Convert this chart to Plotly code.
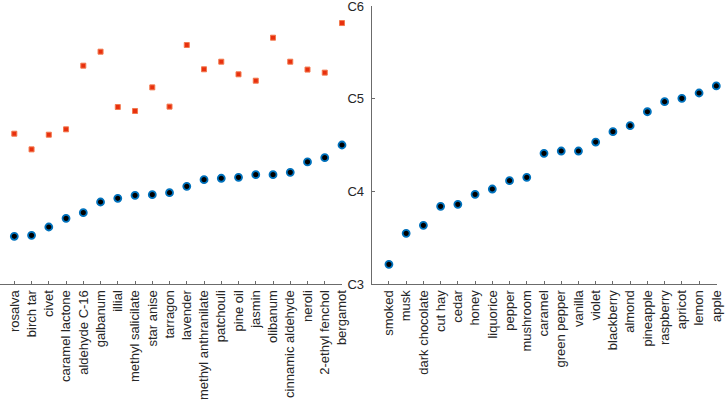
import plotly.graph_objects as go

left_cats = ["rosalva", "birch tar", "civet", "caramel lactone", "aldehyde C-16", "galbanum",
             "illial", "methyl salicilate", "star anise", "tarragon", "lavender",
             "methyl anthranilate", "patchouli", "pine oil", "jasmin", "olibanum",
             "cinnamic aldehyde", "neroli", "2-ethyl fenchol", "bergamot"]
left_blue = [3.515, 3.525, 3.615, 3.709, 3.770, 3.885, 3.925, 3.957, 3.964, 3.985, 4.054,
             4.126, 4.141, 4.151, 4.180, 4.180, 4.205, 4.317, 4.363, 4.500]
left_red = [4.622, 4.453, 4.611, 4.669, 5.356, 5.507, 4.910, 4.867, 5.122, 4.914, 5.579,
            5.317, 5.399, 5.263, 5.194, 5.658, 5.399, 5.314, 5.281, 5.816]

right_cats = ["smoked", "musk", "dark chocolate", "cut hay", "cedar", "honey", "liquorice",
              "pepper", "mushroom", "caramel", "green pepper", "vanilla", "violet",
              "blackberry", "almond", "pineapple", "raspberry", "apricot", "lemon", "apple"]
right_blue = [3.212, 3.547, 3.633, 3.838, 3.860, 3.968, 4.025, 4.115, 4.151, 4.410, 4.435,
              4.435, 4.532, 4.644, 4.709, 4.859, 4.967, 5.004, 5.061, 5.137]

y_ticks = [3, 4, 5, 6]
y_labels = ["C3", "C4", "C5", "C6"]

blue_marker = dict(symbol="circle", size=7, color="black", line=dict(color="#0072BD", width=1.8))
red_marker = dict(symbol="square", size=5, color="#E8300E", line=dict(color="#F27A50", width=1))

fig = go.Figure()
lx = list(range(len(left_cats)))
rx = list(range(len(right_cats)))
fig.add_trace(go.Scatter(x=lx, y=left_red, mode="markers", marker=red_marker,
                         xaxis="x", yaxis="y", showlegend=False, cliponaxis=False))
fig.add_trace(go.Scatter(x=lx, y=left_blue, mode="markers", marker=blue_marker,
                         xaxis="x", yaxis="y", showlegend=False, cliponaxis=False))
fig.add_trace(go.Scatter(x=rx, y=right_blue, mode="markers", marker=blue_marker,
                         xaxis="x2", yaxis="y2", showlegend=False, cliponaxis=False))

axcol = "#6b6b6b"
font = dict(family="Liberation Sans, Arial, sans-serif", size=13, color="#262626")
W = 717.0
common_x = dict(showgrid=False, zeroline=False, showline=True, linecolor=axcol, linewidth=1,
                ticks="inside", ticklen=3, tickcolor=axcol, tickangle=-90, tickfont=font,
                automargin=False, ticklabeloverflow="allow")

fig.update_layout(
    width=725, height=406,
    margin=dict(l=0, r=8, t=6, b=122),
    plot_bgcolor="white", paper_bgcolor="white",
    xaxis=dict(domain=[0, 342 / W], range=[-0.83, 19], tickmode="array",
               tickvals=lx, ticktext=left_cats, anchor="y", **common_x),
    yaxis=dict(range=[3, 6], showgrid=False, zeroline=False, showline=False,
               showticklabels=False, ticks="", anchor="x"),
    xaxis2=dict(domain=[371.7 / W, 1], range=[-1, 19.04], tickmode="array",
                tickvals=rx, ticktext=right_cats, anchor="y2", **common_x),
    yaxis2=dict(range=[3, 6], showgrid=False, zeroline=False, showline=True,
                linecolor=axcol, linewidth=1, ticks="inside", ticklen=3, tickcolor=axcol,
                tickmode="array", tickvals=y_ticks, ticktext=y_labels, tickfont=font,
                anchor="x2", ticklabelstandoff=4, automargin=False,
                ticklabeloverflow="allow"),
)

fig.write_html("out.html", post_script="document.body.style.margin='0';",
               config={"displayModeBar": False})
